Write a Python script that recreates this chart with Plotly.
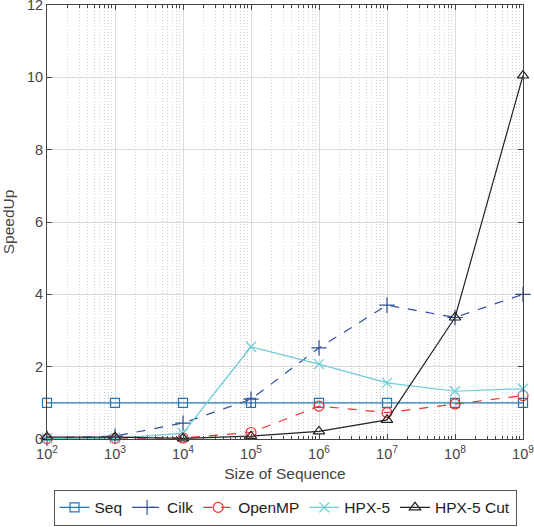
import plotly.graph_objects as go

sizes = [1e2, 1e3, 1e4, 1e5, 1e6, 1e7, 1e8, 1e9]
seq = [1, 1, 1, 1, 1, 1, 1, 1]
cilk = [0.02, 0.08, 0.44, 1.10, 2.52, 3.70, 3.36, 4.00]
openmp = [0.01, 0.02, 0.03, 0.18, 0.91, 0.73, 0.97, 1.20]
hpx5 = [0.02, 0.02, 0.16, 2.55, 2.07, 1.55, 1.32, 1.39]
hpx5cut = [0.05, 0.05, 0.02, 0.08, 0.21, 0.53, 3.36, 10.05]

xtickvals = [1e2, 1e3, 1e4, 1e5, 1e6, 1e7, 1e8, 1e9]
xticktext = ["10<sup>%d</sup>" % e for e in range(2, 10)]
ytickvals = [0, 2, 4, 6, 8, 10, 12]
minor_vals = [k * 10 ** e for e in range(2, 9) for k in range(2, 10)]

series = [
    ("Seq", seq, "#1f78bd", "solid", "square-open", 9),
    ("Cilk", cilk, "#2e4f9e", "dash", "cross-thin-open", 11),
    ("OpenMP", openmp, "#f0302a", "dash", "circle-open", 10),
    ("HPX-5", hpx5, "#6ccbd9", "solid", "x-thin-open", 10),
    ("HPX-5 Cut", hpx5cut, "#222222", "solid", "triangle-up-open", 10),
]

fig = go.Figure()
for name, vals, color, dash, sym, ms in series:
    fig.add_trace(go.Scatter(
        x=sizes, y=vals, name=name, mode="lines+markers",
        line=dict(color=color, width=1.2, dash=dash),
        marker=dict(symbol=sym, size=ms, color=color,
                    line=dict(color=color, width=1.2)),
        cliponaxis=False,
    ))

font_family = "Liberation Sans, Arial, sans-serif"
fig.update_layout(
    width=534, height=527,
    margin=dict(l=47, r=11, t=5, b=88, autoexpand=False),
    paper_bgcolor="white", plot_bgcolor="white",
    font=dict(family=font_family, size=14, color="#444444"),
    showlegend=True,
    legend=dict(
        orientation="h", x=0.5, xanchor="center", y=-0.117, yanchor="top",
        bordercolor="#555555", borderwidth=1, bgcolor="white",
        font=dict(size=15.5, color="#222222"),
        itemwidth=30, tracegroupgap=0,
    ),
    xaxis=dict(
        type="log", range=[2, 9], automargin=False,
        tickvals=xtickvals, ticktext=xticktext,
        showline=True, linecolor="#444444", linewidth=1, mirror="allticks",
        ticks="inside", ticklen=5, tickcolor="#444444",
        showgrid=True, gridcolor="#dcdcdc", gridwidth=1,
        zeroline=False, ticklabelstandoff=2, ticklabeloverflow="allow",
        minor=dict(tickvals=minor_vals, ticks="inside", ticklen=3, tickcolor="#444444",
                   showgrid=True, gridcolor="#d0d0d0", griddash="1px,2px", gridwidth=1),
        title=dict(text="Size of Sequence", font=dict(size=15.5, color="#444444"), standoff=6),
        tickfont=dict(size=14.5),
    ),
    yaxis=dict(
        range=[0, 12], tickvals=ytickvals, automargin=False,
        showline=True, linecolor="#444444", linewidth=1, mirror="allticks",
        ticks="inside", ticklen=5, tickcolor="#444444",
        showgrid=True, gridcolor="#dcdcdc", gridwidth=1,
        zeroline=False, ticklabeloverflow="allow",
        title=dict(text="SpeedUp", font=dict(size=15.5, color="#444444"), standoff=8),
        tickfont=dict(size=14.5),
    ),
)

fig.write_html("out.html")
